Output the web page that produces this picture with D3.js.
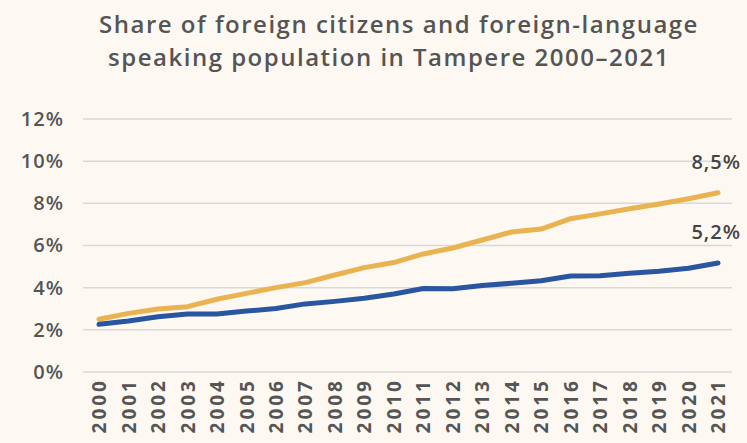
<!DOCTYPE html>
<html lang="en">
<head>
  <meta charset="UTF-8">
  <script src="https://d3js.org/d3.v7.min.js" charset="utf-8"></script>
  <title>Tampere foreign population</title>
  <style>
    body { margin: 0; background: #fdf9f2; }
    svg { display: block; }
  </style>
</head>
<body>
  <script type="text/javascript">

    const w = 747;
    const h = 443;

    var years = ["2000", "2001", "2002", "2003", "2004", "2005", "2006", "2007", "2008", "2009", "2010",
      "2011", "2012", "2013", "2014", "2015", "2016", "2017", "2018", "2019", "2020", "2021"];
    // foreign-language speaking population (%)
    var foreignLanguage = [2.5, 2.78, 2.99, 3.1, 3.45, 3.73, 4.0, 4.24, 4.6, 4.95, 5.19,
      5.6, 5.88, 6.26, 6.64, 6.78, 7.27, 7.5, 7.74, 7.97, 8.22, 8.5];
    // foreign citizens (%)
    var foreignCitizens = [2.26, 2.42, 2.62, 2.75, 2.75, 2.89, 3.01, 3.23, 3.35, 3.5, 3.7,
      3.96, 3.95, 4.1, 4.21, 4.33, 4.55, 4.56, 4.68, 4.78, 4.92, 5.17];
    var yTicks = [0, 2, 4, 6, 8, 10, 12];
    var endLabels = ["8,5%", "5,2%"];

    var svg = d3.select("body")
      .append("svg")
      .attr("width", w)
      .attr("height", h);

    svg.append("rect")
      .attr("width", w)
      .attr("height", h)
      .attr("fill", "#fdf9f2");

    // title
    var title = svg.append("text")
      .attr("text-anchor", "middle")
      .attr("font-family", "'Open Sans', sans-serif")
      .attr("font-weight", 600)
      .attr("font-size", "24px")
      .attr("letter-spacing", "1.5px")
      .attr("fill", "#555");
    title.append("tspan").attr("x", 399).attr("y", 33)
      .text("Share of foreign citizens and foreign-language");
    title.append("tspan").attr("x", 389).attr("y", 66)
      .text("speaking population in Tampere 2000\u20132021");

    var x = d3.scalePoint()
      .domain(years)
      .range([99, 718]);

    var y = d3.scaleLinear()
      .domain([0, 12])
      .range([372, 119]);

    // grid lines
    svg.selectAll("line.grid")
      .data(yTicks)
      .enter()
      .append("line")
      .attr("class", "grid")
      .attr("x1", 83)
      .attr("x2", 732)
      .attr("y1", function (d) { return y(d); })
      .attr("y2", function (d) { return y(d); })
      .attr("stroke", "#d9d9d9")
      .attr("stroke-width", 1.5);

    // y axis labels
    var yAxis = d3.axisLeft(y)
      .tickValues(yTicks)
      .tickSize(0)
      .tickPadding(0)
      .tickFormat(function (d) { return d + "%"; });

    var gy = svg.append("g")
      .attr("transform", "translate(64,0)")
      .call(yAxis);
    gy.select(".domain").remove();
    gy.selectAll("text")
      .attr("font-family", "'Open Sans', sans-serif")
      .attr("font-weight", 600)
      .attr("font-size", "20px")
      .attr("letter-spacing", "1px")
      .attr("fill", "#555");

    // x axis labels (rotated)
    var xAxis = d3.axisBottom(x)
      .tickSize(0)
      .tickPadding(0);

    var gx = svg.append("g")
      .attr("transform", "translate(0,378)")
      .call(xAxis);
    gx.select(".domain").remove();
    gx.selectAll("text")
      .attr("font-family", "'Open Sans', sans-serif")
      .attr("font-weight", 700)
      .attr("font-size", "19px")
      .attr("letter-spacing", "3px")
      .attr("fill", "#555")
      .attr("text-anchor", "end")
      .attr("x", 0)
      .attr("y", 0)
      .attr("dy", "0.35em")
      .attr("transform", "rotate(-90)");

    var line = d3.line()
      .x(function (d, i) { return x(years[i]); })
      .y(function (d) { return y(d); });

    svg.append("path")
      .datum(foreignLanguage)
      .attr("d", line)
      .attr("fill", "none")
      .attr("stroke", "#e9b352")
      .attr("stroke-width", 5)
      .attr("stroke-linecap", "round")
      .attr("stroke-linejoin", "round");

    svg.append("path")
      .datum(foreignCitizens)
      .attr("d", line)
      .attr("fill", "none")
      .attr("stroke", "#2a55a0")
      .attr("stroke-width", 5)
      .attr("stroke-linecap", "round")
      .attr("stroke-linejoin", "round");

    // end value labels
    var lastVals = [foreignLanguage[foreignLanguage.length - 1], foreignCitizens[foreignCitizens.length - 1]];
    svg.selectAll("text.endlabel")
      .data(lastVals)
      .enter()
      .append("text")
      .attr("class", "endlabel")
      .text(function (d, i) { return endLabels[i]; })
      .attr("x", 741)
      .attr("y", function (d) { return y(d) - 24; })
      .attr("text-anchor", "end")
      .attr("font-family", "'Open Sans', sans-serif")
      .attr("font-weight", 600)
      .attr("font-size", "20px")
      .attr("letter-spacing", "1px")
      .attr("fill", "#444");

  </script>
</body>
</html>
